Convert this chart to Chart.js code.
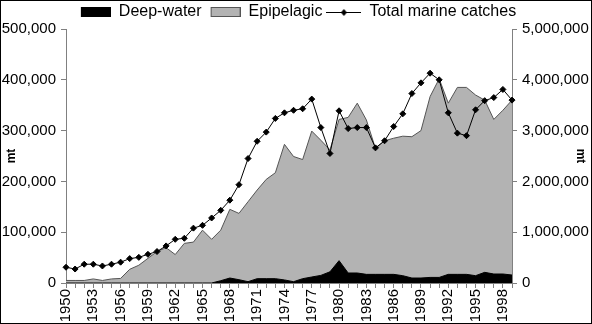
<!DOCTYPE html>
<html>
<head>
<meta charset="utf-8">
<script src="https://cdn.jsdelivr.net/npm/chart.js@4/dist/chart.umd.min.js"></script>
<style>
  html, body { margin: 0; padding: 0; background: #fff; }
  #wrap { width: 592px; height: 324px; position: relative; }
</style>
</head>
<body>
<div id="wrap"><canvas id="catchChart"></canvas></div>
<script>
// ================= DATA =================
const years = [
  "1950","1951","1952","1953","1954","1955","1956","1957","1958","1959",
  "1960","1961","1962","1963","1964","1965","1966","1967","1968","1969",
  "1970","1971","1972","1973","1974","1975","1976","1977","1978","1979",
  "1980","1981","1982","1983","1984","1985","1986","1987","1988","1989",
  "1990","1991","1992","1993","1994","1995","1996","1997","1998","1999"
];

// left axis (mt)
const deepWater = [
  0, 0, 0, 0, 0, 0, 0, 0, 0, 0,
  0, 0, 0, 0, 0, 0, 0, 4500, 9800, 6500,
  2600, 8500, 8500, 8500, 6000, 2600, 8500, 11800, 15000, 22000,
  44000, 19700, 19700, 17000, 17000, 17000, 17000, 14400, 9800, 9800,
  11000, 11000, 17000, 17000, 17000, 14400, 21000, 17700, 17700, 15700
];

const epipelagic = [
  5000, 5000, 5000, 8000, 5000, 8000, 9000, 27000, 35000, 48500,
  62000, 69500, 56000, 78000, 80500, 104000, 86000, 104000, 145000, 137000,
  160000, 183000, 204000, 217000, 273000, 249000, 243000, 299000, 281000, 262000,
  322000, 326000, 354000, 321000, 265000, 280000, 285000, 289000, 288000, 300000,
  367000, 402000, 354000, 385000, 385000, 370000, 360000, 322000, 340000, 360000
];

// right axis (mt)
const totalCatches = [
  310000, 275000, 370000, 370000, 335000, 370000, 410000, 480000, 505000, 565000,
  620000, 730000, 860000, 880000, 1080000, 1135000, 1280000, 1430000, 1630000, 1935000,
  2450000, 2790000, 2970000, 3240000, 3350000, 3400000, 3430000, 3620000, 3060000, 2550000,
  3390000, 3040000, 3060000, 3060000, 2660000, 2800000, 3080000, 3330000, 3730000, 3940000,
  4130000, 4000000, 3350000, 2950000, 2900000, 3410000, 3590000, 3650000, 3810000, 3600000
];

const seriesNames = ["Deep-water", "Epipelagic", "Total marine catches"];

// ================= LEGEND ICONS =================
function boxIcon(fill, stroke) {
  const c = document.createElement("canvas");
  c.width = 35; c.height = 10;
  const g = c.getContext("2d");
  g.fillStyle = fill;
  g.fillRect(5, 0, 30, 10);
  if (stroke) {
    g.strokeStyle = stroke;
    g.lineWidth = 1;
    g.strokeRect(5.5, 0.5, 29, 9);
  }
  return c;
}

function lineIcon() {
  const c = document.createElement("canvas");
  c.width = 35; c.height = 10;
  const g = c.getContext("2d");
  g.strokeStyle = "#000";
  g.lineWidth = 1;
  g.beginPath();
  g.moveTo(0, 5.5); g.lineTo(35, 5.5);
  g.stroke();
  g.fillStyle = "#000";
  g.beginPath();
  g.moveTo(17.5, 2); g.lineTo(20.5, 5.5); g.lineTo(17.5, 9); g.lineTo(14.5, 5.5);
  g.closePath();
  g.fill();
  return c;
}

const legendIcons = [boxIcon("#000"), boxIcon("#b3b3b3", "#555"), lineIcon()];

// ================= FRAME =================
const framePlugin = {
  id: "frame",
  afterDraw(chart) {
    const ctx = chart.ctx;
    ctx.save();
    ctx.strokeStyle = "#000";
    ctx.lineWidth = 1;
    ctx.strokeRect(0.5, 0.5, chart.width - 1, chart.height - 1);
    ctx.restore();
  }
};

// ================= CHART =================
Chart.defaults.font.family = "'Liberation Sans', Arial, sans-serif";
Chart.defaults.color = "#000";

const fmt = v => Number(v).toLocaleString("en-US");

new Chart(document.getElementById("catchChart"), {
  type: "line",
  data: {
    labels: years,
    datasets: [
      {
        label: seriesNames[2],
        data: totalCatches,
        yAxisID: "y2",
        borderColor: "#000",
        borderWidth: 1,
        pointStyle: "rectRot",
        pointRadius: 3,
        pointBackgroundColor: "#000",
        pointBorderColor: "#000",
        pointBorderWidth: 1,
        fill: false,
        tension: 0,
        order: 0
      },
      {
        label: seriesNames[0],
        data: deepWater,
        yAxisID: "y",
        borderColor: "#000",
        borderWidth: 1,
        backgroundColor: "#000",
        pointRadius: 0,
        fill: "origin",
        tension: 0,
        order: 1
      },
      {
        label: seriesNames[1],
        data: epipelagic,
        yAxisID: "y",
        borderColor: "#555",
        borderWidth: 1,
        backgroundColor: "#b3b3b3",
        pointRadius: 0,
        fill: "origin",
        tension: 0,
        order: 2
      }
    ]
  },
  options: {
    responsive: true,
    maintainAspectRatio: false,
    animation: false,
    layout: { padding: 0 },
    plugins: {
      tooltip: { enabled: false },
      legend: {
        position: "top",
        maxHeight: 29,
        labels: {
          usePointStyle: true,
          pointStyleWidth: 35,
          padding: 4,
          font: { size: 16 },
          generateLabels: () => seriesNames.map((name, i) => ({
            text: name,
            pointStyle: legendIcons[i],
            fillStyle: "#000",
            strokeStyle: "#000",
            lineWidth: 0,
            hidden: false,
            datasetIndex: i
          }))
        }
      }
    },
    scales: {
      x: {
        offset: false,
        grid: { drawOnChartArea: false, color: "#808080", tickLength: 5 },
        border: { color: "#808080" },
        ticks: {
          autoSkip: false,
          minRotation: 90,
          maxRotation: 90,
          padding: 1,
          font: { size: 15 },
          callback: function (val, i) {
            return i % 3 === 0 ? years[i] : "";
          }
        },
        afterFit: s => { s.height = 41; }
      },
      y: {
        position: "left",
        min: 0,
        max: 500000,
        grid: { drawOnChartArea: false, color: "#808080", tickLength: 5 },
        border: { color: "#808080" },
        ticks: { stepSize: 100000, padding: 5, font: { size: 15 }, callback: fmt },
        title: { display: true, text: "mt", font: { size: 12, weight: "bold" }, padding: { top: 4, bottom: 0 } },
        afterFit: s => { s.width = 66; }
      },
      y2: {
        position: "right",
        min: 0,
        max: 5000000,
        grid: { drawOnChartArea: false, color: "#808080", tickLength: 5 },
        border: { color: "#808080" },
        ticks: { stepSize: 1000000, padding: 5, font: { size: 15 }, callback: fmt },
        title: { display: true, text: "mt", font: { size: 12, weight: "bold" }, padding: { top: 4, bottom: 0 } },
        afterFit: s => { s.width = 80; }
      }
    }
  },
  plugins: [framePlugin]
});
</script>
</body>
</html>
